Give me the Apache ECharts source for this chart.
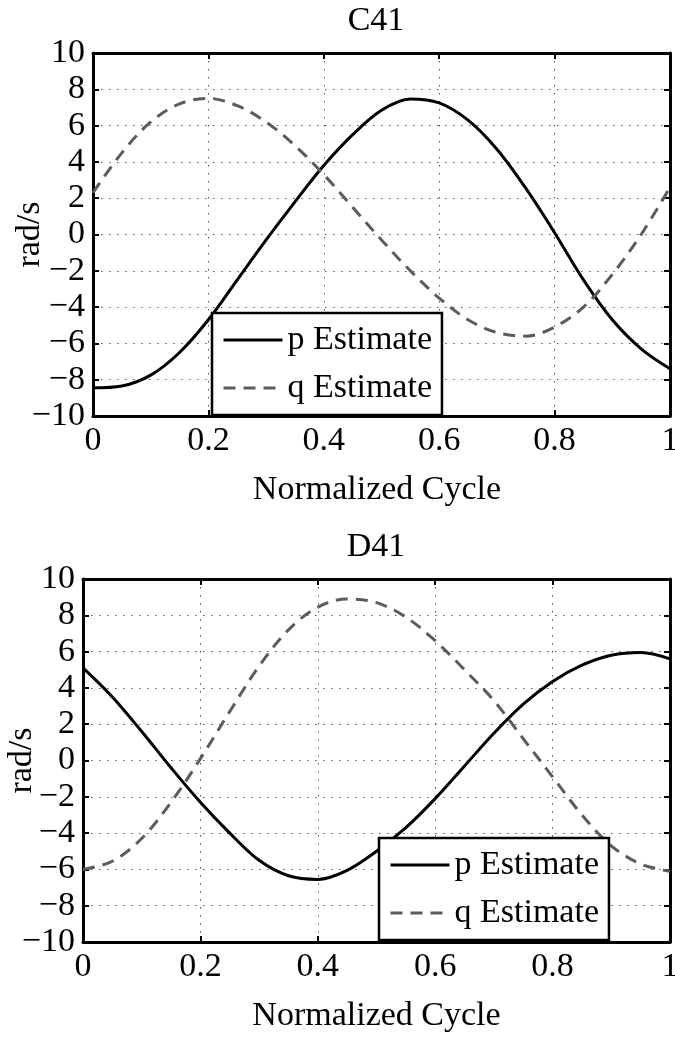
<!DOCTYPE html>
<html>
<head>
<meta charset="utf-8">
<script src="https://cdn.jsdelivr.net/npm/echarts@6/dist/echarts.min.js"></script>
<style>
html,body{margin:0;padding:0;background:#fff;}
#chart{width:675px;height:1038px;}
</style>
</head>
<body>
<div id="chart"></div>
<script>
// ---- data ----
const c41PX = [0,0.05,0.1,0.15,0.2,0.25,0.3,0.35,0.4,0.45,0.5,0.55,0.6,0.65,0.7,0.75,0.8,0.85,0.9,0.95,1.0];
const c41P  = [-8.45,-8.35,-7.75,-6.5,-4.7,-2.5,-0.3,1.8,3.8,5.5,6.85,7.47,7.25,6.3,4.7,2.55,0.1,-2.5,-4.7,-6.3,-7.4];
const c41QX = [0,0.05,0.1,0.15,0.2,0.25,0.3,0.35,0.4,0.45,0.5,0.55,0.6,0.65,0.7,0.75,0.8,0.85,0.9,0.95,1.0];
const c41Q  = [2.3,4.5,6.2,7.2,7.5,7.1,6.2,4.9,3.3,1.5,-0.3,-2.0,-3.5,-4.7,-5.4,-5.6,-5.1,-4.0,-2.2,0.0,2.6];
const d41PX = [0,0.05,0.1,0.15,0.2,0.25,0.3,0.35,0.4,0.45,0.5,0.55,0.6,0.65,0.7,0.75,0.8,0.85,0.9,0.95,1.0];
const d41P  = [5.1,3.5,1.6,-0.4,-2.3,-4.0,-5.5,-6.35,-6.55,-6.05,-5.0,-3.7,-2.1,-0.3,1.5,3.1,4.35,5.25,5.8,5.95,5.6];
const d41QX = [0,0.05,0.1,0.15,0.2,0.25,0.3,0.35,0.4,0.45,0.5,0.55,0.6,0.65,0.7,0.75,0.8,0.85,0.9,0.95,1.0];
const d41Q  = [-6.0,-5.55,-4.3,-2.3,0.1,2.7,5.2,7.2,8.45,8.9,8.7,7.9,6.6,5.0,3.3,1.2,-0.9,-3.0,-4.7,-5.7,-6.1];
const titles = ['C41','D41'];
const seriesNames = ['p Estimate','q Estimate'];
const xAxisTitle = 'Normalized Cycle';
const yAxisTitle = 'rad/s';

const FONT = "'Liberation Serif','Times New Roman',serif";
const FS = 34;
const pairs = (xs, ys) => xs.map((x,i)=>[x, ys[i]]);
const minus = v => String(v).replace('-', '\u2212');

const grids = [
  {left:93, top:53, width:577, height:363, outerBoundsMode:'none', containLabel:false},
  {left:83, top:579, width:587, height:363, outerBoundsMode:'none', containLabel:false}
];
const yNameGaps = [46, 44];
const xNamePads = [[0,9,0,0],[0,0,0,0]];

const xAxes = [], yAxes = [];
grids.forEach((g,gi)=>{
  xAxes.push({
    type:'value', gridIndex:gi, min:0, max:1, interval:0.2, position:'bottom',
    name:xAxisTitle, nameLocation:'middle', nameGap:57, nameMoveOverlap:false,
    nameTextStyle:{fontFamily:FONT, fontSize:FS, color:'#000', padding:xNamePads[gi]},
    axisLine:{show:true, onZero:false, lineStyle:{color:'#000', width:3}},
    axisTick:{show:true, inside:true, length:6, lineStyle:{color:'#000', width:2}},
    axisLabel:{fontFamily:FONT, fontSize:FS, color:'#000', margin:8, formatter:minus, hideOverlap:false},
    splitLine:{show:true, lineStyle:{color:'#555', width:1, type:[1.5,6.5]}}
  });
  xAxes.push({
    type:'value', gridIndex:gi, min:0, max:1, interval:0.2, position:'top',
    axisLine:{show:true, onZero:false, lineStyle:{color:'#000', width:3}},
    axisTick:{show:true, inside:true, length:6, lineStyle:{color:'#000', width:2}},
    axisLabel:{show:false}, splitLine:{show:false}
  });
  yAxes.push({
    type:'value', gridIndex:gi, min:-10, max:10, interval:2, position:'left',
    name:yAxisTitle, nameLocation:'middle', nameGap:yNameGaps[gi], nameMoveOverlap:false,
    nameTextStyle:{fontFamily:FONT, fontSize:FS, color:'#000'},
    axisLine:{show:true, onZero:false, lineStyle:{color:'#000', width:3}},
    axisTick:{show:true, inside:true, length:6, lineStyle:{color:'#000', width:2}},
    axisLabel:{fontFamily:FONT, fontSize:FS, color:'#000', margin:8, formatter:minus, hideOverlap:false},
    splitLine:{show:true, lineStyle:{color:'#555', width:1, type:[1.5,6.5]}}
  });
  yAxes.push({
    type:'value', gridIndex:gi, min:-10, max:10, interval:2, position:'right',
    axisLine:{show:true, onZero:false, lineStyle:{color:'#000', width:3}},
    axisTick:{show:true, inside:true, length:6, lineStyle:{color:'#000', width:2}},
    axisLabel:{show:false}, splitLine:{show:false}
  });
});

function mkSeries(name, xs, ys, gi, dashed){
  const col = dashed ? '#5c5c5c' : '#000';
  return {
    type:'line', name:name, xAxisIndex:gi*2, yAxisIndex:gi*2, data:pairs(xs, ys),
    smooth:0.34, symbol:'none', showSymbol:false, silent:true, z:3,
    itemStyle:{color:col},
    lineStyle: dashed ? {color:col, width:3, type:[12,8]} : {color:col, width:3}
  };
}

const legendCommon = {
  orient:'vertical', data:seriesNames, itemWidth:59, itemHeight:14, itemGap:14,
  backgroundColor:'#fff', borderColor:'#000', borderWidth:2.5,
  padding:[10,10,10,10], textStyle:{fontFamily:FONT, fontSize:FS, color:'#000'},
  itemStyle:{opacity:0}, lineStyle:{width:3},
  selectedMode:false, z:10
};

const titleStyle = {fontFamily:FONT, fontSize:FS, fontWeight:'normal', color:'#000'};
const option = {
  animation:false,
  backgroundColor:'#fff',
  title:[
    {text:titles[0], left:371, top:-1, textAlign:'center', textStyle:titleStyle},
    {text:titles[1], left:371, top:525, textAlign:'center', textStyle:titleStyle}
  ],
  legend:[
    Object.assign({}, legendCommon, {left:212, top:313}),
    Object.assign({}, legendCommon, {left:379, top:838})
  ],
  grid:grids,
  xAxis:xAxes,
  yAxis:yAxes,
  series:[
    mkSeries(seriesNames[0], c41PX, c41P, 0, false),
    mkSeries(seriesNames[1], c41QX, c41Q, 0, true),
    mkSeries(seriesNames[0], d41PX, d41P, 1, false),
    mkSeries(seriesNames[1], d41QX, d41Q, 1, true)
  ]
};

const chart = echarts.init(document.getElementById('chart'), null, {renderer:'canvas'});
chart.setOption(option);
</script>
</body>
</html>
